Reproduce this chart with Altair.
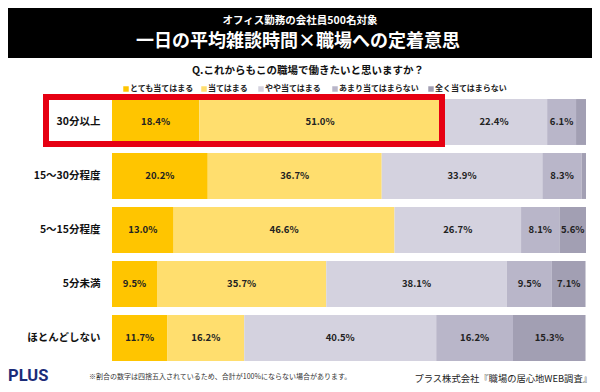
import altair as alt
import pandas as pd

# ---- data ----
categories = ["30分以上", "15～30分程度", "5～15分程度", "5分未満", "ほとんどしない"]
responses = ["とても当てはまる", "当てはまる", "やや当てはまる", "あまり当てはまらない", "全く当てはまらない"]
very_true = [18.4, 20.2, 13.0, 9.5, 11.7]
true_ = [51.0, 36.7, 46.6, 35.7, 16.2]
somewhat = [22.4, 33.9, 26.7, 38.1, 40.5]
not_really = [6.1, 8.3, 8.1, 9.5, 16.2]
not_at_all = [2.1, 0.9, 5.6, 7.1, 15.3]
colors = ["#FFC500", "#FFDE6E", "#D4D2DF", "#B9B6C9", "#A29FB3"]

# legend layout (pixel offsets from plot origin)
legend_x = [14, 92, 149, 223, 319]

series = [very_true, true_, somewhat, not_really, not_at_all]
recs = []
for i, cat in enumerate(categories):
    start = 0.0
    for j, resp in enumerate(responses):
        v = series[j][i]
        recs.append({"cat": cat, "resp": resp, "order": j, "v": v,
                     "start": start, "end": start + v, "mid": start + v / 2,
                     "label": f"{v:.1f}%"})
        start += v
df = pd.DataFrame(recs)

FONT = "Noto Sans CJK JP"

x_scale = alt.Scale(domain=[0, 100], nice=False, zero=True)
color_scale = alt.Scale(domain=responses, range=colors)
y_enc = alt.Y("cat:N", sort=categories,
              scale=alt.Scale(paddingInner=0.15, paddingOuter=0.075),
              axis=alt.Axis(title=None, ticks=False, domain=False, labelFont=FONT,
                            labelFontSize=10.5, labelFontWeight="bold",
                            labelColor="#111", labelPadding=12))

bars = alt.Chart(df).mark_bar().encode(
    x=alt.X("start:Q", scale=x_scale, axis=None),
    x2="end:Q",
    y=y_enc,
    color=alt.Color("resp:N", scale=color_scale, legend=None),
    order=alt.Order("order:Q"),
)

labels = alt.Chart(df).transform_filter("datum.v >= 5").mark_text(
    font=FONT, fontSize=9.5, fontWeight="bold", color="#222"
).encode(
    x=alt.X("mid:Q", scale=x_scale, axis=None),
    y=alt.Y("cat:N", sort=categories),
    text="label:N",
)

# manual legend row
leg_df = pd.DataFrame({"resp": responses, "lx": legend_x})
leg_df["tx"] = leg_df["lx"] + 4
leg_sq = alt.Chart(leg_df).mark_square(size=30, opacity=1).encode(
    x=alt.X("lx:Q", scale=None), y=alt.value(-6),
    color=alt.Color("resp:N", scale=color_scale, legend=None))
leg_tx = alt.Chart(leg_df).mark_text(
    font=FONT, fontSize=8, fontWeight="bold", color="#222", align="left",
    baseline="middle").encode(
    x=alt.X("tx:Q", scale=None), y=alt.value(-6), text="resp:N")


def txt(s, x, y, **kw):
    return alt.Chart(pd.DataFrame({"t": [s]})).mark_text(**kw).encode(
        x=alt.value(x), y=alt.value(y), text="t:N")


banner = alt.Chart(pd.DataFrame({"a": [0]})).mark_rect(color="black").encode(
    x=alt.value(-104), x2=alt.value(481), y=alt.value(-87), y2=alt.value(-37))

subtitle = txt("オフィス勤務の会社員500名対象", 188, -74, font=FONT, fontSize=10.5,
               fontWeight="bold", color="white", align="center", baseline="middle")
title = txt("一日の平均雑談時間×職場への定着意思", 186, -53, font=FONT, fontSize=18,
            fontWeight="bold", color="white", align="center", baseline="middle")
question = txt("Q.これからもこの職場で働きたいと思いますか？", 196, -24, font=FONT,
               fontSize=10.5, fontWeight="bold", color="#111", align="center",
               baseline="middle")

redbox = alt.Chart(pd.DataFrame({"a": [0]})).mark_rect(
    filled=False, stroke="#E60012", strokeWidth=6).encode(
    x=alt.value(-66), x2=alt.value(330), y=alt.value(2), y2=alt.value(49))

plus = txt("PLUS", -104, 281, font="Roboto", fontSize=16.5, fontWeight="bold",
           color="#1B2C78", align="left", baseline="middle")
note = txt("※割合の数字は四捨五入されているため、合計が100%にならない場合があります。",
           -23, 282, font=FONT, fontSize=7, color="#333", align="left", baseline="middle")
source = txt("プラス株式会社『職場の居心地WEB調査』", 480, 284, font=FONT, fontSize=9.3,
             color="#222", align="right", baseline="middle")

chart = alt.layer(banner, subtitle, title, question, leg_sq, leg_tx, bars, labels,
                  redbox, plus, note, source).properties(
    width=474, height=270, autosize="none",
    padding={"left": 104, "top": 87, "right": 6, "bottom": 19},
).configure_view(strokeWidth=0)

chart.save("out.html", embed_options={"renderer": "svg", "actions": False})
